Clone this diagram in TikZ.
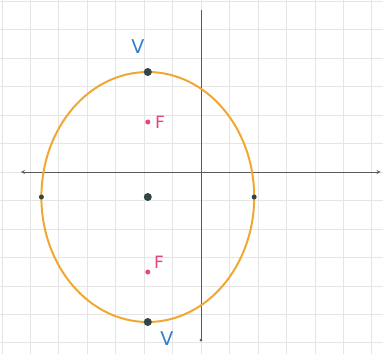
\documentclass[tikz,border=0pt]{standalone}
\usepackage{fontspec}
\setsansfont{DejaVu Sans}
\usepackage{xcolor}
\usetikzlibrary{positioning}
\definecolor{mycol}{rgb}{0.94,0.66,0.2}
\definecolor{mycol2}{rgb}{0.2,0.5,0.8}
\definecolor{mycol3}{rgb}{0.91,0.27,0.5}
\definecolor{mycol4}{rgb}{0.2,0.27,0.27}
\definecolor{mycol5}{rgb}{0.9,0.9,0.9}
\definecolor{mycol6}{rgb}{0.35,0.35,0.35}

\begin{document}
\begin{tikzpicture}[x=26.6pt,y=25pt,
		sommet/.style={circle,fill=mycol4,inner sep=0pt,minimum size=8pt},
		petit/.style={circle,fill=mycol4,inner sep=0pt,minimum size=5pt},
		foyer/.style={circle,fill=mycol3,inner sep=0pt,minimum size=5pt},
		lblv/.style={text=mycol2,font=\sffamily\fontsize{19}{19}\selectfont},
		lblf/.style={text=mycol3,font=\sffamily\fontsize{17}{17}\selectfont}]
			
			% Cadre de l'image
			\useasboundingbox (-7.556,-7.28) rectangle (6.842,6.88);
			\fill[white] (-7.556,-7.28) rectangle (6.842,6.88);
			
			% Quadrillage
			\draw[mycol5, line width=0.5pt] (-7.556,-7.28) grid (6.842,6.88);
			
			% Axes
			\draw[mycol6, line width=0.8pt, <->, >=stealth] (-6.77,0) -- (6.75,0);
			\draw[mycol6, line width=0.8pt] (0,6.5) -- (0,-6.72);
			\fill[mycol6] (0,-6.72) circle (1.5pt);
			
			% Ellipse
			\draw[mycol, line width=2pt] (-2,-1) ellipse (4 and 5);
			
			% Centre, sommets et co-sommets
			\node[sommet] (c) at (-2,-1) {};
			\node[sommet] (v1) at (-2,4) {};
			\node[sommet] (v2) at (-2,-6) {};
			\node[petit] (w1) at (-6,-1) {};
			\node[petit] (w2) at (2,-1) {};
			
			% Foyers
			\node[foyer] (f1) at (-2,2) {};
			\node[foyer] (f2) at (-2,-4) {};
			
			% Etiquettes
			\node[lblv] (lv1) at (-2.37,5.0) {V};
			\node[lblv] (lv2) at (-1.28,-6.68) {V};
			\node[lblf, right=1pt of f1] (lf1) {F};
			\node[lblf, above right=-2pt and 1pt of f2] (lf2) {F};
			
		\end{tikzpicture}
\end{document}
